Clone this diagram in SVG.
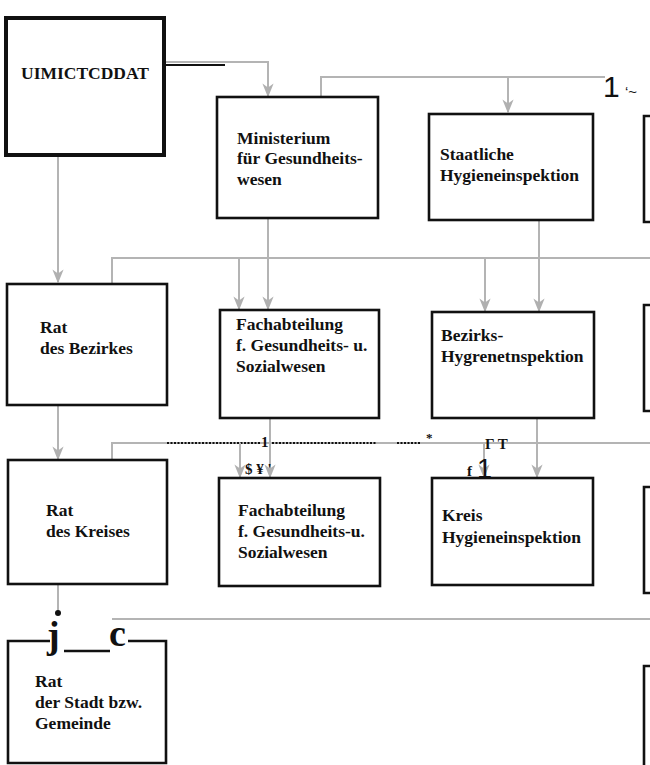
<svg xmlns="http://www.w3.org/2000/svg" width="650" height="765" viewBox="0 0 650 765">
<style>
.box{fill:#fff;stroke:#111;stroke-width:2.6}
.t{font-family:"Liberation Serif","Times New Roman",serif;font-weight:bold;font-size:17.5px;fill:#111}
.c{fill:none;stroke:#b4b4b4;stroke-width:2}
.dot{fill:none;stroke:#111;stroke-width:2;stroke-dasharray:2 1.5}
</style>
<defs>
<marker id="ah" viewBox="0 0 10 10" refX="9" refY="5" markerWidth="7" markerHeight="7" orient="auto">
<path d="M0,1 L10,5 L0,9 L3,5 z" fill="#b0b0b0"/>
</marker>
</defs>
<rect width="650" height="765" fill="#fff"/>
<g id="connectors">
<path class="c" d="M165,62 H268 V96" marker-end="url(#ah)"/>
<line x1="165" y1="65" x2="225" y2="65" stroke="#111" stroke-width="2"/>
<path class="c" d="M321,97 V77 H605"/>
<path class="c" d="M508,77 V112" marker-end="url(#ah)"/>
<path class="c" d="M58,156 V282" marker-end="url(#ah)"/>
<path class="c" d="M112,283 V258 H650"/>
<path class="c" d="M239,258 V309" marker-end="url(#ah)"/>
<path class="c" d="M268,218 V309" marker-end="url(#ah)"/>
<path class="c" d="M485,258 V311" marker-end="url(#ah)"/>
<path class="c" d="M539,220 V311" marker-end="url(#ah)"/>
<path class="c" d="M58,405 V459" marker-end="url(#ah)"/>
<path class="c" d="M112,460 V443 H650"/>
<path class="dot" d="M167,443 H261 M272,443 H377"/>
<path class="dot" d="M397,443 H420"/>
<path class="c" d="M240,443 V477" marker-end="url(#ah)"/>
<path class="c" d="M270,418 V477" marker-end="url(#ah)"/>
<path class="c" d="M484,443 V477" marker-end="url(#ah)"/>
<path class="c" d="M537,418 V477" marker-end="url(#ah)"/>
<path class="c" d="M58,585 V612"/>
<circle cx="58" cy="613" r="3" fill="#111"/>
<path class="c" d="M112,619 H650"/>
</g>
<g id="n-top">
<rect x="6" y="18" width="158" height="137" fill="#fff" stroke="#111" stroke-width="4"/>
<text class="t" x="21" y="79">UIMICTCDDAT</text>
</g>
<g id="n-ministerium">
<rect class="box" x="217" y="97" width="161" height="121"/>
<text class="t" x="237" y="144">Ministerium</text>
<text class="t" x="237" y="164">für Gesundheits-</text>
<text class="t" x="237" y="185">wesen</text>
</g>
<g id="n-staatliche">
<rect class="box" x="429" y="114" width="164" height="106"/>
<text class="t" x="440" y="160">Staatliche</text>
<text class="t" x="440" y="181">Hygieneinspektion</text>
</g>
<g id="n-r1"><path d="M650,116 H644 V222 H650" fill="none" stroke="#111" stroke-width="2.6"/></g>
<g id="n-bezirk">
<rect class="box" x="7" y="284" width="160" height="121"/>
<text class="t" x="40" y="333">Rat</text>
<text class="t" x="40" y="354">des Bezirkes</text>
</g>
<g id="n-fach1">
<rect class="box" x="220" y="310" width="159" height="108"/>
<text class="t" x="236" y="330">Fachabteilung</text>
<text class="t" x="236" y="351">f. Gesundheits- u.</text>
<text class="t" x="236" y="372">Sozialwesen</text>
</g>
<g id="n-bezhyg">
<rect class="box" x="432" y="312" width="162" height="106"/>
<text class="t" x="441" y="341">Bezirks-</text>
<text class="t" x="441" y="362">Hygrenetnspektion</text>
</g>
<g id="n-r2"><path d="M650,305 H644 V411 H650" fill="none" stroke="#111" stroke-width="2.6"/></g>
<g id="n-kreis">
<rect class="box" x="8" y="460" width="159" height="124"/>
<text class="t" x="46" y="516">Rat</text>
<text class="t" x="46" y="537">des Kreises</text>
</g>
<g id="n-fach2">
<rect class="box" x="219" y="478" width="161" height="108"/>
<text class="t" x="238" y="516">Fachabteilung</text>
<text class="t" x="238" y="537">f. Gesundheits-u.</text>
<text class="t" x="238" y="558">Sozialwesen</text>
</g>
<g id="n-kreishyg">
<rect class="box" x="432" y="478" width="161" height="107"/>
<text class="t" x="442" y="521">Kreis</text>
<text class="t" x="442" y="543">Hygieneinspektion</text>
</g>
<g id="n-r3"><path d="M650,487 H644 V593 H650" fill="none" stroke="#111" stroke-width="2.6"/></g>
<g id="n-stadt">
<path d="M50,641 H8 V763 H166 V641 H128" fill="none" stroke="#111" stroke-width="2.6"/>
<text class="t" x="35" y="687">Rat</text>
<text class="t" x="35" y="708">der Stadt bzw.</text>
<text class="t" x="35" y="729">Gemeinde</text>
</g>
<g id="n-r4"><path d="M650,666 H644 V765" fill="none" stroke="#111" stroke-width="2.6"/></g>
<g id="marks">
<text x="603" y="97" font-family="Liberation Sans,Arial,sans-serif" font-size="30" fill="#111">1</text>
<text x="625" y="97" font-family="Liberation Sans,Arial,sans-serif" font-size="15" fill="#111">‘~</text>
<text class="t" x="261" y="447" style="font-size:15px">1</text>
<text class="t" x="426" y="442" style="font-size:13px">*</text>
<text class="t" x="245" y="474" style="font-size:15px">$ ¥ '</text>
<text class="t" x="485" y="449" style="font-size:15px">Γ T</text>
<text class="t" x="467" y="476" style="font-size:15px">f</text>
<text x="477" y="478" font-family="Liberation Sans,Arial,sans-serif" font-size="27" fill="#111">1</text>
<text class="t" x="47" y="648" style="font-size:38px">j</text>
<line x1="64" y1="651" x2="110" y2="651" stroke="#111" stroke-width="2.5"/>
<text class="t" x="109" y="646" style="font-size:38px">c</text>
</g>
</svg>
